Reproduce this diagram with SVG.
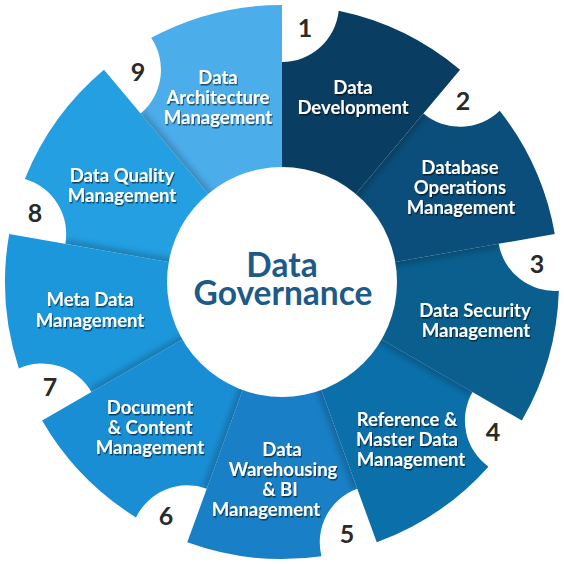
<svg xmlns="http://www.w3.org/2000/svg" width="564" height="564" viewBox="0 0 564 564">
<defs>
<style>
.lbl{font-family:Lato,"Open Sans","Liberation Sans",sans-serif;font-weight:700;font-size:18.5px;fill:#ffffff;text-anchor:middle;filter:url(#ts)}
.num{font-family:Lato,"Open Sans","Liberation Sans",sans-serif;font-weight:700;font-size:25px;fill:#2a2a2a;text-anchor:middle}
.ctr{font-family:Lato,"Open Sans","Liberation Sans",sans-serif;font-weight:700;font-size:33.5px;fill:#1d5a8a;text-anchor:middle}
.sh{fill:none;stroke:#000;stroke-opacity:0.22;stroke-width:8;filter:url(#bl)}
</style>
<filter id="ts" x="-10%" y="-30%" width="120%" height="160%">
<feDropShadow dx="1" dy="1.5" stdDeviation="0.7" flood-color="#000" flood-opacity="0.55"/>
</filter>
<filter id="bl" x="-50%" y="-50%" width="200%" height="200%">
<feGaussianBlur stdDeviation="3"/>
</filter>
<clipPath id="c1"><path id="p1" d="M282,282 L282,62 A57,57 0 0 0 338.69,10.86 A277,277 0 0 1 460.05,69.81 Z"/></clipPath>
<clipPath id="c2"><path id="p2" d="M282,282 L423.41,113.47 A57,57 0 0 0 499.71,110.74 A277,277 0 0 1 554.79,233.90 Z"/></clipPath>
<clipPath id="c3"><path id="p3" d="M282,282 L498.66,243.80 A57,57 0 0 0 558.86,290.75 A277,277 0 0 1 521.89,420.5 Z"/></clipPath>
<clipPath id="c4"><path id="p4" d="M282,282 L472.53,392 A57,57 0 0 0 488.46,466.67 A277,277 0 0 1 376.74,542.29 Z"/></clipPath>
<clipPath id="c5"><path id="p5" d="M282,282 L357.24,488.73 A57,57 0 0 0 321.46,556.17 A277,277 0 0 1 187.26,542.29 Z"/></clipPath>
<clipPath id="c6"><path id="p6" d="M282,282 L206.76,488.73 A57,57 0 0 0 136.00,517.40 A277,277 0 0 1 42.11,420.5 Z"/></clipPath>
<clipPath id="c7"><path id="p7" d="M282,282 L91.47,392 A57,57 0 0 0 18.84,368.48 A277,277 0 0 1 9.21,233.90 Z"/></clipPath>
<clipPath id="c8"><path id="p8" d="M282,282 L65.34,243.80 A57,57 0 0 0 24.84,179.09 A277,277 0 0 1 103.95,69.81 Z"/></clipPath>
<clipPath id="c9"><path id="p9" d="M282,282 L140.59,113.47 A57,57 0 0 0 151.15,37.85 A277,277 0 0 1 282,5 Z"/></clipPath>
</defs>
<rect width="564" height="564" fill="#ffffff"/>

<g id="seg1"><use href="#p1" fill="#0a3d62"/><path class="sh" clip-path="url(#c1)" d="M282,282 L282,62"/></g>
<g id="seg2"><use href="#p2" fill="#0b4e7b"/><path class="sh" clip-path="url(#c2)" d="M282,282 L423.41,113.47"/></g>
<g id="seg3"><use href="#p3" fill="#0a5f8f"/><path class="sh" clip-path="url(#c3)" d="M282,282 L498.66,243.80"/></g>
<g id="seg4"><use href="#p4" fill="#0b6fa9"/><path class="sh" clip-path="url(#c4)" d="M282,282 L472.53,392"/></g>
<g id="seg5"><use href="#p5" fill="#197fc6"/><path class="sh" clip-path="url(#c5)" d="M282,282 L357.24,488.73"/></g>
<g id="seg6"><use href="#p6" fill="#1a8ed5"/><path class="sh" clip-path="url(#c6)" d="M282,282 L206.76,488.73"/></g>
<g id="seg7"><use href="#p7" fill="#1c97dc"/><path class="sh" clip-path="url(#c7)" d="M282,282 L91.47,392"/></g>
<g id="seg8"><use href="#p8" fill="#239fe2"/><path class="sh" clip-path="url(#c8)" d="M282,282 L65.34,243.80"/></g>
<g id="seg9"><use href="#p9" fill="#4badea"/><path class="sh" clip-path="url(#c9)" d="M282,282 L140.59,113.47"/></g>

<g id="center">
<circle cx="282" cy="282" r="115" fill="#ffffff"/>
<text class="ctr" x="282" y="277">Data</text>
<text class="ctr" x="283" y="305">Governance</text>
</g>

<g id="labels">
<text class="lbl" x="353"><tspan x="353" y="94">Data</tspan><tspan x="353" y="114">Development</tspan></text>
<text class="lbl" x="460"><tspan x="460" y="174">Database</tspan><tspan x="460" y="194">Operations</tspan><tspan x="461" y="214">Management</tspan></text>
<text class="lbl" x="475"><tspan x="475" y="317">Data Security</tspan><tspan x="476" y="337">Management</tspan></text>
<text class="lbl" x="411"><tspan x="407" y="426">Reference &amp;</tspan><tspan x="407" y="446">Master Data</tspan><tspan x="411" y="466">Management</tspan></text>
<text class="lbl" x="282"><tspan x="282" y="456">Data</tspan><tspan x="283" y="476">Warehousing</tspan><tspan x="280" y="496">&amp; BI</tspan><tspan x="266" y="516">Management</tspan></text>
<text class="lbl" x="150"><tspan x="150" y="414">Document</tspan><tspan x="150" y="434">&amp; Content</tspan><tspan x="150" y="454">Management</tspan></text>
<text class="lbl" x="90"><tspan x="90" y="306">Meta Data</tspan><tspan x="90" y="327">Management</tspan></text>
<text class="lbl" x="122"><tspan x="122" y="182">Data Quality</tspan><tspan x="122" y="202">Management</tspan></text>
<text class="lbl" x="218"><tspan x="218" y="84">Data</tspan><tspan x="218" y="104">Architecture</tspan><tspan x="218" y="124">Management</tspan></text>
</g>

<g id="numbers">
<text class="num" x="305" y="37">1</text>
<text class="num" x="463" y="110">2</text>
<text class="num" x="537" y="273">3</text>
<text class="num" x="493" y="441">4</text>
<text class="num" x="347" y="543">5</text>
<text class="num" x="166" y="525">6</text>
<text class="num" x="50" y="396">7</text>
<text class="num" x="35" y="222">8</text>
<text class="num" x="138" y="81">9</text>
</g>
</svg>
